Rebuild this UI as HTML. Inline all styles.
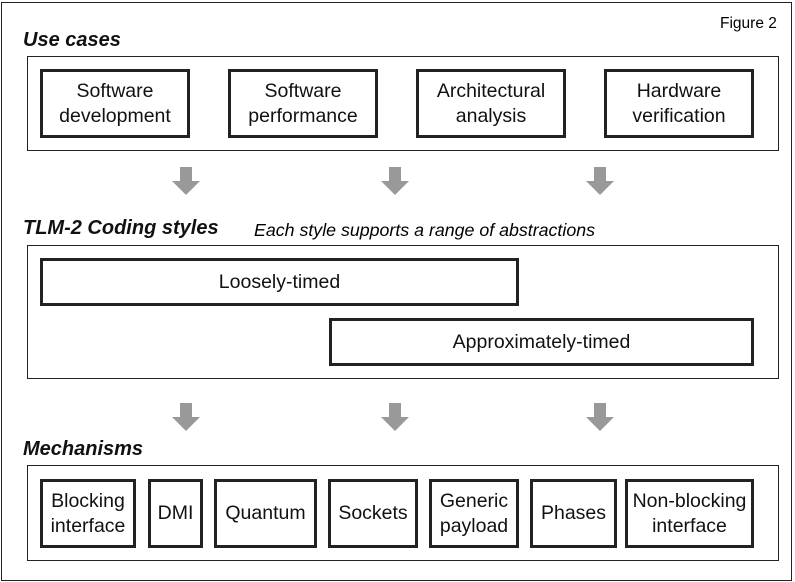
<!DOCTYPE html><html><head><style>
body{margin:0;width:795px;height:582px;background:#fff;position:relative;font-family:"Liberation Sans",sans-serif;overflow:hidden}
div{position:absolute;box-sizing:border-box}
.p{border:1.5px solid #222}
.b{border:3px solid #222;display:flex;align-items:center;justify-content:center;text-align:center;font-size:19.5px;line-height:25px;color:#111}
.h{font-weight:bold;font-style:italic;font-size:20px;color:#111}
</style></head><body>
<div style="left:1px;top:2px;width:791px;height:579px;border:1.5px solid #222"></div>
<div style="left:720px;top:15px;font-size:15.5px">Figure 2</div>
<div class="h" style="left:23px;top:29px">Use cases</div>
<div class="p" style="left:27px;top:56px;width:752px;height:95px"></div>
<div class="b" style="left:40px;top:69px;width:150px;height:69px">Software<br>development</div>
<div class="b" style="left:228px;top:69px;width:150px;height:69px">Software<br>performance</div>
<div class="b" style="left:416px;top:69px;width:150px;height:69px">Architectural<br>analysis</div>
<div class="b" style="left:604px;top:69px;width:150px;height:69px">Hardware<br>verification</div>
<div class="h" style="left:23px;top:217px">TLM-2 Coding styles</div>
<div style="left:254px;top:220px;font-style:italic;font-size:17.8px">Each style supports a range of abstractions</div>
<div class="p" style="left:27px;top:245px;width:752px;height:134px"></div>
<div class="b" style="left:40px;top:258px;width:479px;height:48px">Loosely-timed</div>
<div class="b" style="left:329px;top:318px;width:425px;height:48px">Approximately-timed</div>
<div class="h" style="left:23px;top:438px">Mechanisms</div>
<div class="p" style="left:27px;top:465px;width:752px;height:96px"></div>
<div class="b" style="left:40px;top:479px;width:96px;height:69px">Blocking<br>interface</div>
<div class="b" style="left:148px;top:479px;width:55px;height:69px">DMI</div>
<div class="b" style="left:214px;top:479px;width:103px;height:69px">Quantum</div>
<div class="b" style="left:328px;top:479px;width:90px;height:69px">Sockets</div>
<div class="b" style="left:429px;top:479px;width:90px;height:69px">Generic<br>payload</div>
<div class="b" style="left:530px;top:479px;width:87px;height:69px">Phases</div>
<div class="b" style="left:625px;top:479px;width:129px;height:69px">Non-blocking<br>interface</div>
<svg width="795" height="582" style="position:absolute;left:0;top:0" fill="#999">
<g id="a"><path d="M180 167h12v14h8l-14 14l-14-14h8z"/></g>
<use href="#a" x="209"/><use href="#a" x="414"/>
<use href="#a" y="236"/><use href="#a" x="209" y="236"/><use href="#a" x="414" y="236"/>
</svg>
</body></html>
